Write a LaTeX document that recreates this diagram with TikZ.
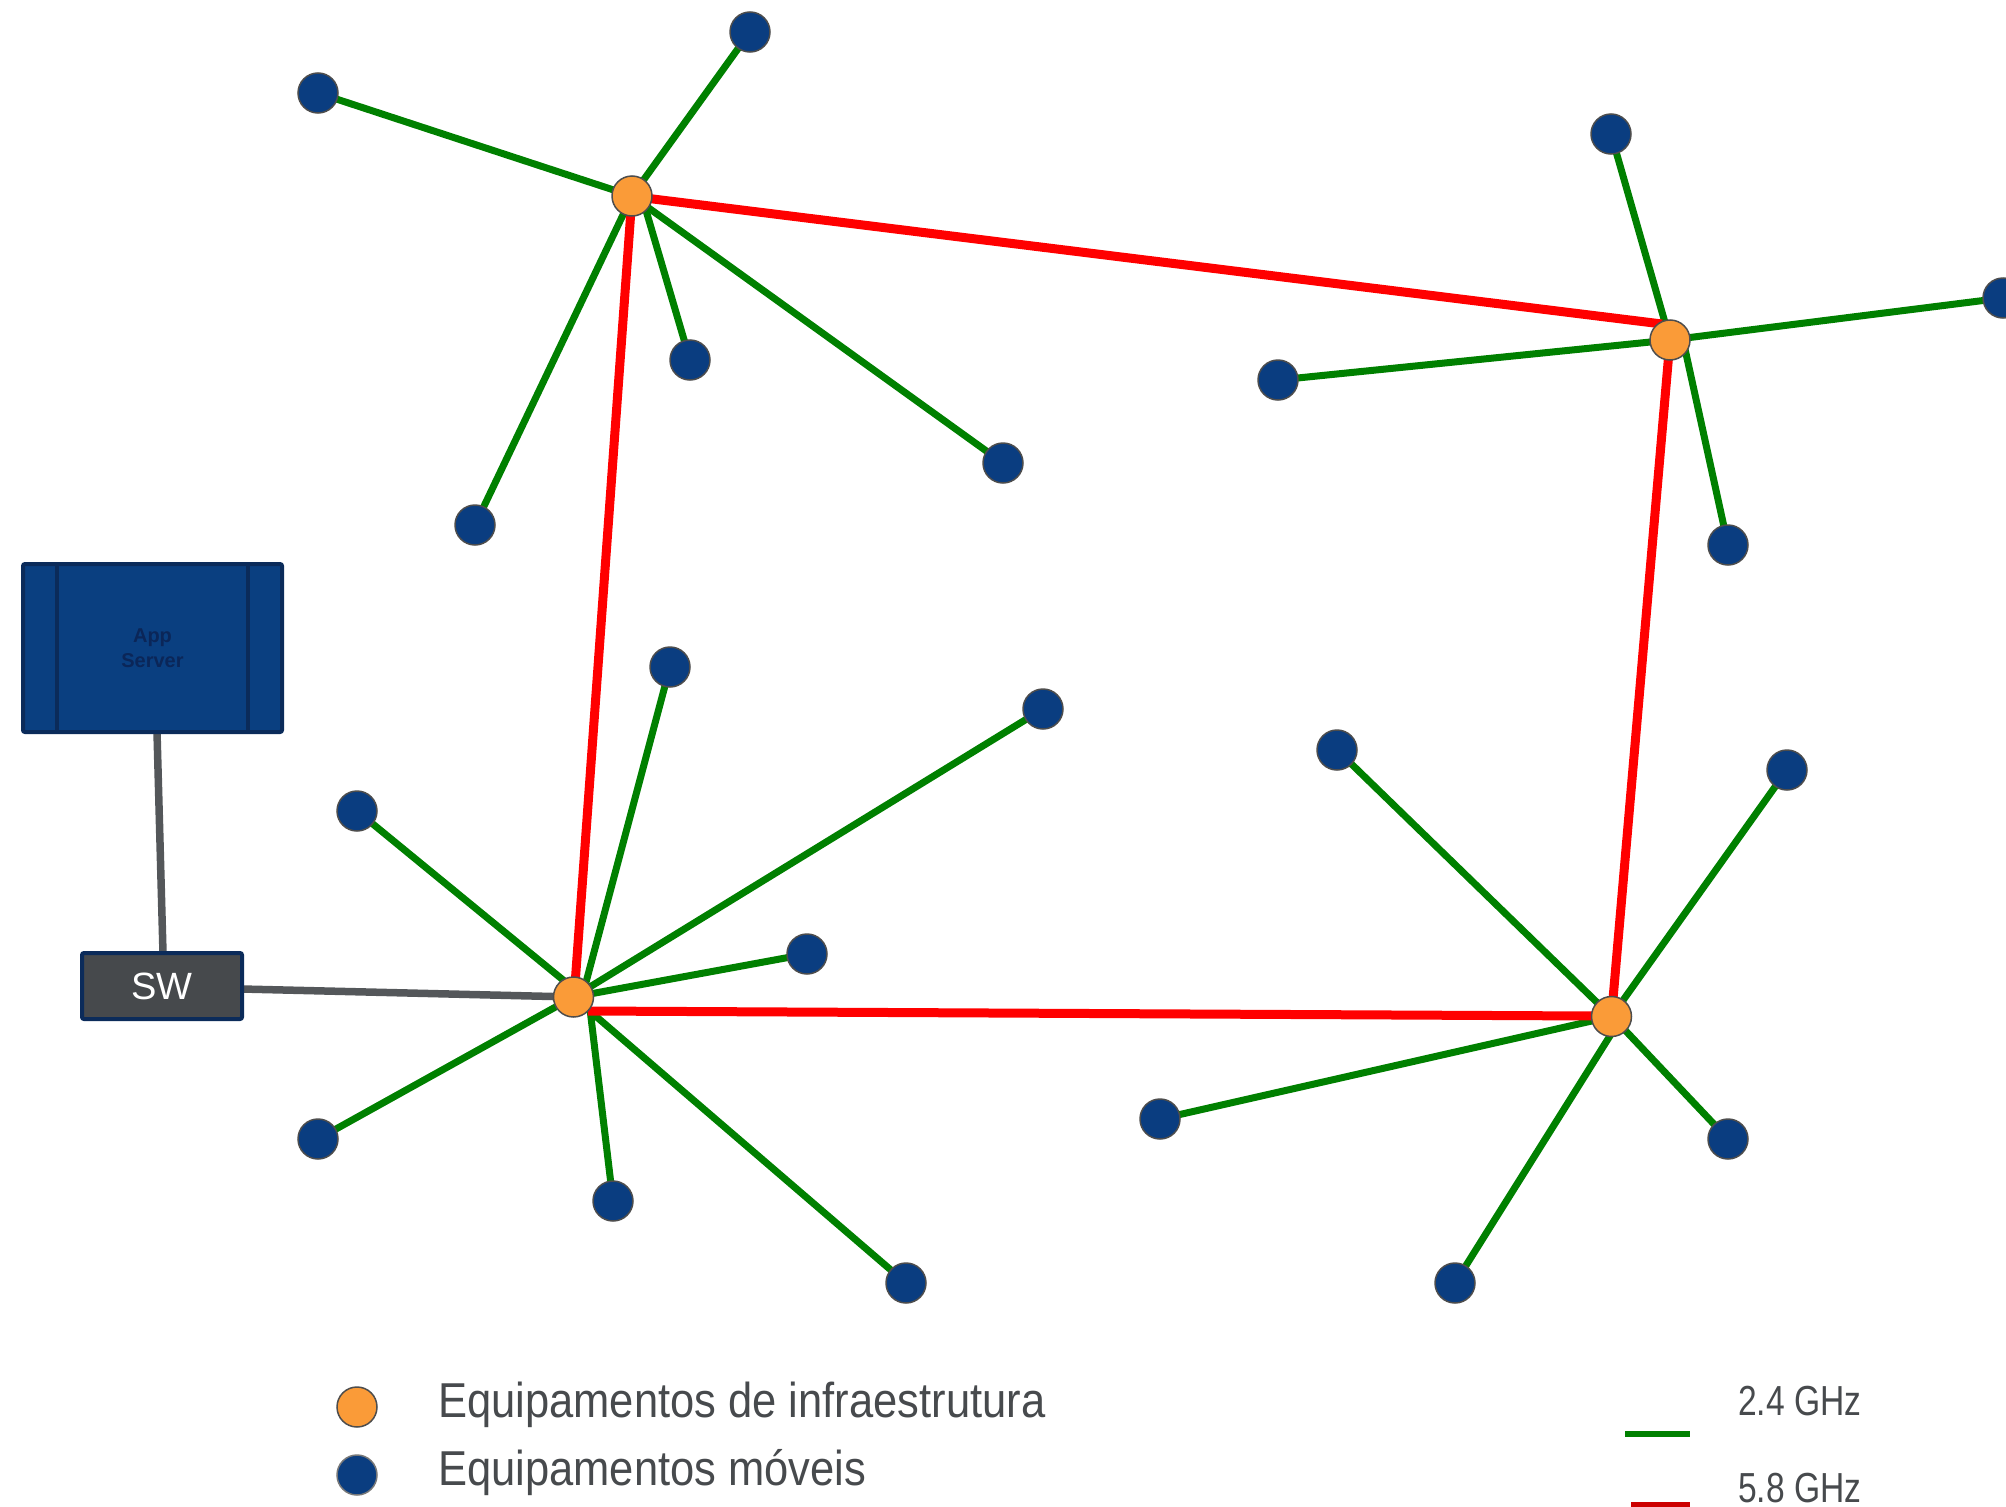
\documentclass[tikz,border=0pt]{standalone}
\usepackage{fontspec}
\setmainfont{Liberation Sans}
\definecolor{wgreen}{RGB}{0,128,0}
\definecolor{wred}{RGB}{255,0,0}
\definecolor{lred}{RGB}{204,0,0}
\definecolor{infraorange}{RGB}{250,155,56}
\definecolor{mobblue}{RGB}{10,61,128}
\definecolor{nodeedge}{RGB}{77,77,77}
\definecolor{srvfill}{RGB}{10,63,128}
\definecolor{srvedge}{RGB}{11,43,90}
\definecolor{srvtext}{RGB}{11,38,88}
\definecolor{swfill}{RGB}{70,73,76}
\definecolor{wiregray}{RGB}{84,87,90}
\definecolor{legtext}{RGB}{71,74,77}
\pgfdeclarelayer{bg}
\pgfsetlayers{bg,main}
\begin{document}
\begin{tikzpicture}[x=1pt,y=-1pt,
  infra/.style={circle,draw=nodeedge,line width=1.5pt,fill=infraorange,minimum size=40pt,inner sep=0pt},
  mob/.style={circle,draw=nodeedge,line width=1.5pt,fill=mobblue,minimum size=40pt,inner sep=0pt},
  wifi/.style={draw=wgreen,line width=7pt},
  bh/.style={draw=wred,line width=9pt},
  wire/.style={draw=wiregray,line width=7.5pt},
  server/.style={draw=srvedge,line width=4pt,fill=srvfill,minimum width=259pt,minimum height=168pt,rounded corners=2pt,outer sep=0pt,align=center,text=srvtext,font=\bfseries\fontsize{20}{25}\selectfont},
  swbox/.style={draw=srvedge,line width=4pt,fill=swfill,minimum width=160pt,minimum height=66pt,rounded corners=2pt,outer sep=0pt,text=white,font=\fontsize{38}{40}\selectfont},
  legtxt/.style={anchor=base west,text=legtext,inner sep=0pt}]
\useasboundingbox (0,0) rectangle (2006,1507);
% infrastructure nodes
\node[infra] (A1) at (632,196) {};
\node[infra] (A2) at (1670,340) {};
\node[infra] (A3) at (573.5,997) {};
\node[infra] (A4) at (1611.5,1016.5) {};
% mobile nodes
\node[mob] (m11) at (318,93) {};
\node[mob] (m12) at (750,32) {};
\node[mob] (m13) at (690,360) {};
\node[mob] (m14) at (1003,463) {};
\node[mob] (m15) at (475,525) {};
\node[mob] (m21) at (1611,134) {};
\node[mob] (m22) at (2003,298) {};
\node[mob] (m23) at (1278,380) {};
\node[mob] (m24) at (1728,545) {};
\node[mob] (m31) at (670,667) {};
\node[mob] (m32) at (1043,709) {};
\node[mob] (m33) at (357,811) {};
\node[mob] (m34) at (807,954) {};
\node[mob] (m35) at (318,1139) {};
\node[mob] (m36) at (613,1201) {};
\node[mob] (m37) at (906,1283) {};
\node[mob] (m41) at (1337,750) {};
\node[mob] (m42) at (1787,770) {};
\node[mob] (m43) at (1160,1119) {};
\node[mob] (m44) at (1728,1139) {};
\node[mob] (m45) at (1455,1283) {};
% server and switch
\node[server] (srv) at (152.5,648) {App\\Server};
\draw[srvedge,line width=4pt] ([xshift=34pt]srv.north west) -- ([xshift=34pt]srv.south west);
\draw[srvedge,line width=4pt] ([xshift=-34pt]srv.north east) -- ([xshift=-34pt]srv.south east);
\node[swbox] (sw) at (162,986) {SW};
\begin{pgfonlayer}{bg}
  % 2.4 GHz links
  \foreach \m in {m11,m12,m14,m15} \draw[wifi] (A1.center) -- (\m.center);
  \draw[wifi] ([shift={(13,11)}]A1.center) -- (m13.center);
  \foreach \m in {m21,m22,m23} \draw[wifi] (A2.center) -- (\m.center);
  \draw[wifi] ([shift={(15,9)}]A2.center) -- (m24.center);
  \foreach \m in {m32,m34,m35,m37} \draw[wifi] (A3.center) -- (\m.center);
  \draw[wifi] ([shift={(-5.5,-13)}]A3.center) -- (m33.center);
  \draw[wifi] ([shift={(11.5,-11)}]A3.center) -- (m31.center);
  \draw[wifi] ([shift={(16.5,12)}]A3.center) -- (m36.center);
  \foreach \m in {m41,m42,m43} \draw[wifi] (A4.center) -- (\m.center);
  \draw[wifi] ([shift={(1.5,14.5)}]A4.center) -- (m45.center);
  \draw[wifi] ([shift={(11.5,11.5)}]A4.center) -- (m44.center);
  % 5.8 GHz links
  \draw[bh] ([shift={(13,2)}]A1.center) -- ([shift={(-8,-16)}]A2.center);
  \draw[bh] (A1.center) -- ([shift={(1.5,-12)}]A3.center);
  \draw[bh] (A2.center) -- (A4.center);
  \draw[bh] ([shift={(14.5,14)}]A3.center) -- ([shift={(-16.5,-0.5)}]A4.center);
  % wired links
  \draw[wire] ([xshift=4.5pt]srv.south) -- ([xshift=1pt]sw.north);
  \draw[wire] ([yshift=-3pt]sw.east) -- (A3.center);
\end{pgfonlayer}
% legend
\node[infra] (Linfra) at (357,1407) {};
\node[mob,draw={rgb,255:red,120;green,120;blue,120}] (Lmob) at (357,1475) {};
\node[legtxt,font=\fontsize{49}{50}\selectfont] (Ltxt1) at (438,1417) {\scalebox{0.888}[1]{Equipamentos de infraestrutura}};
\node[legtxt,font=\fontsize{49}{50}\selectfont] (Ltxt2) at (438,1485) {\scalebox{0.888}[1]{Equipamentos móveis}};
\node[legtxt,font=\fontsize{42}{44}\selectfont] (Lg1) at (1738,1415) {\scalebox{0.8}[1]{2.4 GHz}};
\node[legtxt,font=\fontsize{42}{44}\selectfont] (Lg2) at (1738,1502) {\scalebox{0.8}[1]{5.8 GHz}};
\coordinate (g1a) at (1625,1434);
\coordinate (g1b) at (1690,1434);
\coordinate (r1a) at (1631,1505);
\coordinate (r1b) at (1690,1505);
\draw[draw=wgreen,line width=6pt] (g1a) -- (g1b);
\draw[draw=lred,line width=6pt] (r1a) -- (r1b);
\end{tikzpicture}
\end{document}
